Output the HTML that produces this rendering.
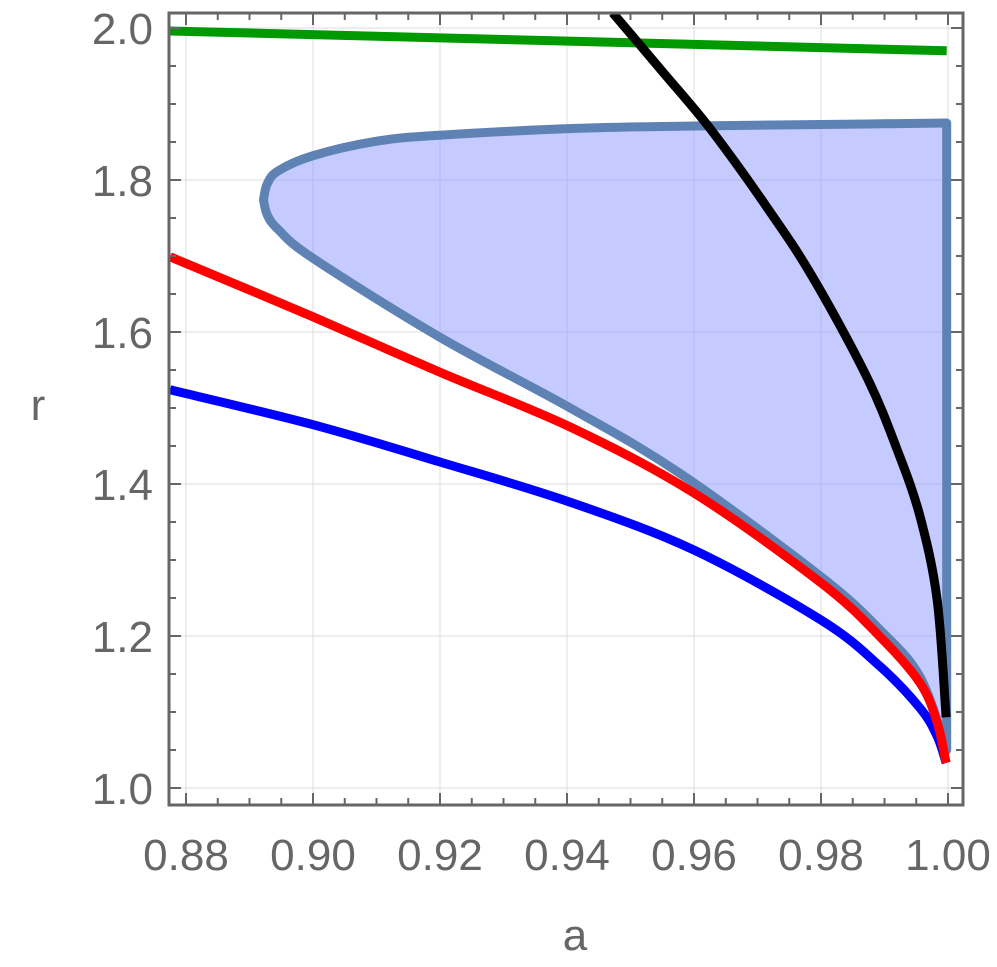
<!DOCTYPE html>
<html><head><meta charset="utf-8"><style>
body{margin:0;background:#fff}
svg text{font-family:"Liberation Sans",sans-serif;fill:#666}
</style></head><body>
<svg id="c" width="997" height="962"></svg>
<script>
const xTicks=[0.88,0.90,0.92,0.94,0.96,0.98,1.00];
const yTicks=[1.0,1.2,1.4,1.6,1.8,2.0];
const regionTopA=[0.8922,0.8928,0.8945,0.90,0.91,0.92,0.942,0.96,0.98,0.9998];
const regionTopR=[1.774,1.795,1.812,1.832,1.851,1.859,1.868,1.871,1.873,1.875];
const regionBotA=[0.9998,0.9956,0.9893,0.98,0.9578,0.9405,0.92,0.90,0.8945,0.8928,0.8922];
const regionBotR=[1.05,1.146,1.208,1.278,1.414,1.50,1.593,1.697,1.735,1.754,1.774];
const redA=[0.8775,0.90,0.92,0.9405,0.96,0.98,0.9893,0.9956,0.9983,0.9997];
const redR=[1.699,1.62,1.547,1.475,1.388,1.270,1.199,1.138,1.086,1.033];
const blueA=[0.8775,0.90,0.92,0.9405,0.96,0.98,0.9893,0.9956,0.9983,0.9997];
const blueR=[1.524,1.478,1.429,1.376,1.313,1.221,1.16,1.105,1.068,1.033];
const blackA=[0.9472,0.9551,0.9625,0.9715,0.9787,0.9872,0.992,0.9956,0.9983,0.9997];
const blackR=[2.02,1.942,1.868,1.764,1.672,1.541,1.445,1.357,1.247,1.093];
const greenA=[0.8775,0.9998];
const greenR=[1.996,1.970];
const NS="http://www.w3.org/2000/svg",svg=document.getElementById('c');
const X=a=>186+(a-0.88)*6350, Y=r=>788-(r-1)*760;
const L=169,R=963,T=13,B=805;
function el(t,at,p){const e=document.createElementNS(NS,t);for(const k in at)e.setAttribute(k,at[k]);(p||svg).appendChild(e);return e;}
function smooth(P){let d='M'+P[0][0].toFixed(1)+','+P[0][1].toFixed(1);
for(let i=0;i<P.length-1;i++){const p0=P[Math.max(0,i-1)],p1=P[i],p2=P[i+1],p3=P[Math.min(P.length-1,i+2)];
const c1=[p1[0]+(p2[0]-p0[0])/6,p1[1]+(p2[1]-p0[1])/6],c2=[p2[0]-(p3[0]-p1[0])/6,p2[1]-(p3[1]-p1[1])/6];
d+=' C'+c1.map(v=>v.toFixed(1)).join(',')+' '+c2.map(v=>v.toFixed(1)).join(',')+' '+p2[0].toFixed(1)+','+p2[1].toFixed(1);}
return d;}
function P(A,Rr){return A.map((a,i)=>[X(a),Y(Rr[i])]);}
const grid=el('g',{});


xTicks.forEach(v=>el('line',{x1:X(v),x2:X(v),y1:T,y2:B,stroke:'#ddd','stroke-width':1},grid));
yTicks.forEach(v=>el('line',{x1:L,x2:R,y1:Y(v),y2:Y(v),stroke:'#ddd','stroke-width':1},grid));
const topPath=smooth(P(regionTopA.slice().reverse(),regionTopR.slice().reverse()));
const botPath=smooth(P(regionBotA.slice().reverse(),regionBotR.slice().reverse()));
const reg=el('path',{d:botPath+' '+topPath.replace('M','L')+' Z',fill:'rgba(140,150,255,0.5)',stroke:'#5f82b5','stroke-width':9,'stroke-linejoin':'round'});


function line(A,Rr,c,n){const p=el('path',{d:smooth(P(A,Rr)),fill:'none',stroke:c,'stroke-width':9});

}
line(blueA,blueR,'#0000ff','blue-curve');
line(redA,redR,'#ff0000','red-curve');
line(greenA,greenR,'#009900','green-curve');
const cp=el('clipPath',{id:'cp'});
el('rect',{x:L,y:T,width:R-L,height:B-T},cp);
const bk=el('path',{d:smooth(P(blackA,blackR)),fill:'none',stroke:'#000','stroke-width':9,'clip-path':'url(#cp)'});


const fr=el('rect',{x:L,y:T,width:R-L,height:B-T,fill:'none',stroke:'#666','stroke-width':3});


for(let v=0.88;v<=1.0001;v+=0.005){const maj=Math.abs(Math.round(v*50)-v*50)<1e-6;const l=maj?12:7;
el('line',{x1:X(v),x2:X(v),y1:B,y2:B-l,stroke:'#666','stroke-width':2});
el('line',{x1:X(v),x2:X(v),y1:T,y2:T+l,stroke:'#666','stroke-width':2});}
for(let v=1.0;v<=2.0001;v+=0.05){const maj=Math.abs(Math.round(v*5)-v*5)<1e-6;const l=maj?12:7;
el('line',{x1:L,x2:L+l,y1:Y(v),y2:Y(v),stroke:'#666','stroke-width':2});
el('line',{x1:R,x2:R-l,y1:Y(v),y2:Y(v),stroke:'#666','stroke-width':2});}
xTicks.forEach(v=>{const t=el('text',{x:X(v),y:870,'font-size':44,'text-anchor':'middle'});t.textContent=v.toFixed(2);

});
yTicks.forEach(v=>{const t=el('text',{x:153,y:Y(v)+16,'font-size':44,'text-anchor':'end'});t.textContent=v.toFixed(1);

});
</script>
<svg style="position:absolute;left:0;top:0" width="997" height="962">
<text x="575" y="950" font-size="44" text-anchor="middle">a</text>
<text x="38" y="420" font-size="44" text-anchor="middle">r</text>
</svg>
</body></html>
